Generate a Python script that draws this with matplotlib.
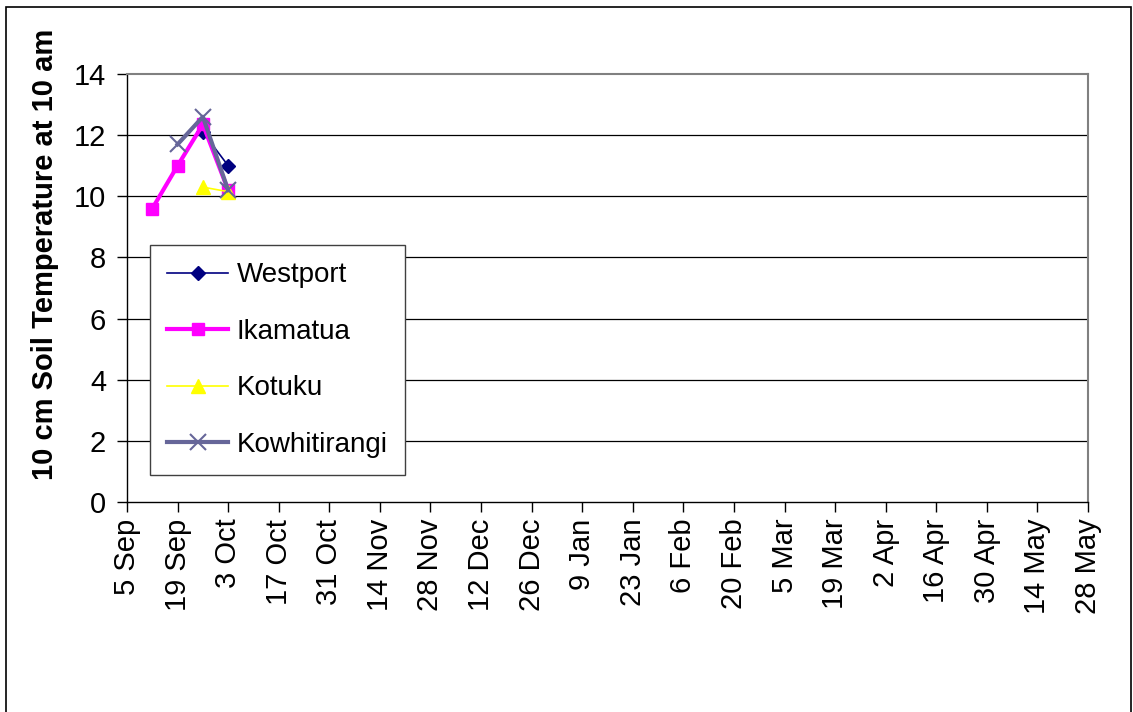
import datetime as dt
import matplotlib.pyplot as plt
import matplotlib.dates as mdates
from matplotlib.patches import Rectangle

plt.rcParams['font.family'] = ['Liberation Sans', 'DejaVu Sans']

# sampling dates (Sep/Oct 2003)
dates_ika = [dt.date(2003, 9, 12), dt.date(2003, 9, 19), dt.date(2003, 9, 26), dt.date(2003, 10, 3)]
dates_two = [dt.date(2003, 9, 26), dt.date(2003, 10, 3)]
dates_kow = [dt.date(2003, 9, 19), dt.date(2003, 9, 26), dt.date(2003, 10, 3)]

westport = [12.1, 11.0]
ikamatua = [9.6, 11.0, 12.35, 10.2]
kotuku = [10.3, 10.15]
kowhitirangi = [11.7, 12.6, 10.2]

tick_start = dt.date(2003, 9, 5)
tick_end = dt.date(2004, 5, 28)

fig = plt.figure(figsize=(11.33, 7.12), dpi=100)
ax = fig.add_axes([127 / 1133, 1 - 502 / 712, 961 / 1133, 428 / 712])

ax.plot(dates_two, westport, color="#000080", lw=1.2, marker="D", ms=7, label="Westport")
ax.plot(dates_ika, ikamatua, color="#FF00FF", lw=3, marker="s", ms=9, label="Ikamatua")
ax.plot(dates_two, kotuku, color="#FFFF00", lw=1.2, marker="^", ms=10, label="Kotuku")
ax.plot(dates_kow, kowhitirangi, color="#666699", lw=3, marker="x", ms=11, mew=1.5,
        label="Kowhitirangi")

ax.set_xlim(tick_start, tick_end)
ax.set_ylim(0, 14)
ax.set_yticks(range(0, 15, 2))
for y in range(2, 14, 2):
    ax.axhline(y, color="black", lw=0.9, zorder=0)

ticks = mdates.drange(tick_start, tick_end + dt.timedelta(days=1), dt.timedelta(days=14))
ax.set_xticks(ticks)
ax.set_xticklabels([mdates.num2date(t).strftime("%-d %b") for t in ticks], rotation=90)

ax.tick_params(axis="both", labelsize=21, direction="out", length=7, width=1, color="black")
ax.tick_params(axis="x", pad=5)
ax.tick_params(axis="y", pad=8)

ax.spines["left"].set_color("black")
ax.spines["bottom"].set_color("black")
ax.spines["top"].set_color("#808080")
ax.spines["right"].set_color("#808080")
for s in ax.spines.values():
    s.set_linewidth(1.5)
ax.spines["left"].set_linewidth(1)
ax.spines["bottom"].set_linewidth(1)

fig.text(45 / 1133, 1 - 254 / 712, "10 cm Soil Temperature at 10 am", rotation=90,
         fontsize=21, fontweight="bold", ha="center", va="center")

leg = ax.legend(loc="upper left", bbox_to_anchor=(150 / 1133, 1 - 245 / 712),
                bbox_transform=fig.transFigure, borderaxespad=0, fontsize=20,
                frameon=True, fancybox=False, edgecolor="#404040", framealpha=1,
                handlelength=2.2, handletextpad=0.3, labelspacing=1.1,
                borderpad=0.62)
leg.get_frame().set_linewidth(1)

# outer chart border
fig.patches.append(Rectangle((6 / 1133, -0.01), 1125 / 1133, 1 - 7 / 712 + 0.01,
                             transform=fig.transFigure, fill=False,
                             edgecolor="black", lw=1.2))

fig.savefig("out.png", dpi=100)
